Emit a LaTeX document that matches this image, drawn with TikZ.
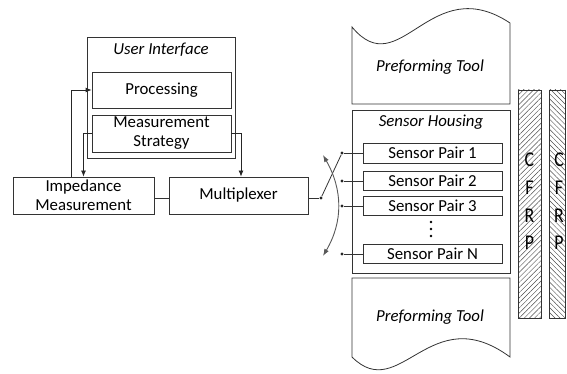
\documentclass[tikz,border=0pt]{standalone}
\usepackage{fontspec}
\setmainfont{Carlito}
\usetikzlibrary{arrows.meta,patterns.meta,calc}
\begin{document}
\begin{tikzpicture}[x=1pt,y=-1pt,
  line width=0.8pt,
  every node/.style={font=\fontsize{16.8}{19}\selectfont},
  box/.style={draw=black!80, rectangle, inner sep=0pt, align=center},
  ttl/.style={font=\fontsize{16.8}{19}\selectfont\itshape},
  arr/.style={draw=black!85, -{Latex[length=6pt,width=5pt]}},
  wire/.style={draw=black!80},
  dot/.style={circle, fill=black!85, inner sep=0pt, minimum size=3.2pt},
  vdot/.style={circle, fill=black, inner sep=0pt, minimum size=2.8pt},
  bar/.style={draw=black!80, inner sep=0pt, minimum width=#1, minimum height=228},
  hatch/.style={pattern={Lines[angle=#1, distance=3.6pt, line width=0.45pt]}, pattern color=black!70},
  cfrp/.style={align=center, font=\fontsize{21}{27.7}\selectfont, xscale=0.85}
]
\useasboundingbox (0,0) rectangle (567,374);

% control unit
\node[box, minimum width=148, minimum height=121] (ui) at (161,97.5) {};
\node[ttl] (uititle) at (161,50) {User Interface};
\node[box, minimum width=139, minimum height=36] (proc) at (161.5,90) {Processing};
\node[box, minimum width=139, minimum height=37] (strat) at (161.5,133.5) {Measurement\\Strategy};
\node[box, minimum width=141, minimum height=37] (imp) at (83.5,195.5) {Impedance\\Measurement};
\node[box, minimum width=139, minimum height=37] (mux) at (238.5,195.5) {Multiplexer};

% signal paths
\draw[arr] ($(imp.north west)+(59,0)$) |- (proc.west);
\draw[arr] (strat.west) -| (imp.north);
\draw[arr] (strat.east) -| ($(mux.north)+(2.5,0)$);
\draw[wire] ($(imp.east)+(0,2.5)$) -- ($(mux.west)+(0,2.5)$);

% preforming tools
\draw[draw=black!80] (352,104) -- (352,27) .. controls (400,85) and (430,-30) .. (510,23) -- (510,104) -- cycle;
\node[ttl] (tooltop) at (430,67) {Preforming Tool};
\draw[draw=black!80] (352,278) -- (510,278) -- (510,357) .. controls (430,298) and (400,405) .. (352,357) -- cycle;
\node[ttl] (toolbot) at (430,317) {Preforming Tool};

% sensor housing
\node[box, minimum width=158, minimum height=163] (housing) at (431,191.5) {};
\node[ttl] (htitle) at (431,122) {Sensor Housing};
\node[box, minimum width=139, minimum height=20] (sp1) at (432.5,153) {Sensor Pair 1};
\node[box, minimum width=139, minimum height=19] (sp2) at (432.5,180.5) {Sensor Pair 2};
\node[box, minimum width=139, minimum height=19] (sp3) at (432.5,205.5) {Sensor Pair 3};
\node[box, minimum width=139, minimum height=19] (spn) at (432.5,253.5) {Sensor Pair N};
\node[vdot] (v1) at (431,222) {};
\node[vdot] (v2) at (431,229) {};
\node[vdot] (v3) at (431,236) {};

% multiplexer switch
\coordinate (s0) at (321,198);
\node[dot] (c0) at (s0) {};
\node[dot] (d1) at (342,153) {};
\node[dot] (d2) at (342,181) {};
\node[dot] (d3) at (342,206) {};
\node[dot] (dn) at (342,254) {};
\draw[wire] ($(mux.east)+(0,2.5)$) -- (c0);
\draw[wire] (c0) -- (d1);
\draw[wire] (d1) -- (d1 -| sp1.west);
\draw[wire] (d2) -- (d2 -| sp2.west);
\draw[wire] (d3) -- (d3 -| sp3.west);
\draw[wire] (dn) -- (dn -| spn.west);
\coordinate (ca) at (323,155);
\coordinate (cb) at (323,256);
\draw[draw=black!65, line width=0.9pt, {Latex[length=7pt,width=5pt]}-{Latex[length=7pt,width=5pt]}] (ca) .. controls (343,190) and (343,222) .. (cb);

% CFRP layers
\node[box, bar=23, hatch=45] (bar1) at (529.5,204) {};
\node[box, bar=16, hatch=-45] (bar2) at (557,204) {};
\node[cfrp] (t1) at (529.5,201.5) {C\\F\\R\\P};
\node[cfrp] (t2) at (559,201.5) {C\\F\\R\\P};
\end{tikzpicture}
\end{document}
